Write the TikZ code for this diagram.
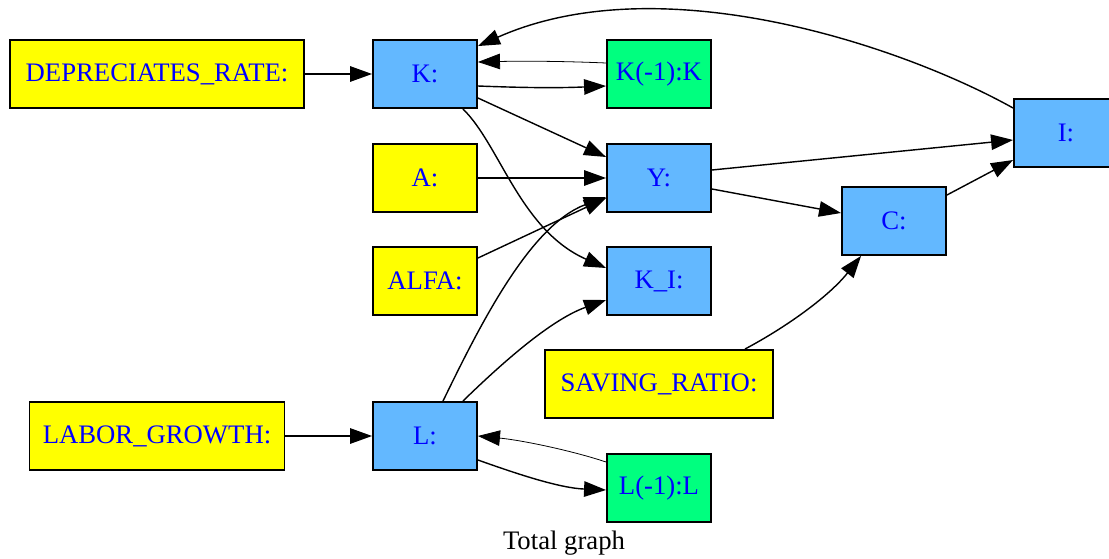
\documentclass[tikz,border=0pt]{standalone}
\usepackage{fontspec}
\setmainfont{Liberation Serif}
\usetikzlibrary{arrows.meta,calc}
\definecolor{exo}{HTML}{FFFF00}
\definecolor{endo}{HTML}{63B8FF}
\definecolor{lag}{HTML}{00FF7F}
\begin{document}
\begin{tikzpicture}[x=0.02cm,y=-0.02cm,
    every node/.style={font=\fontsize{15.2}{18}\selectfont},
    var/.style={draw,line width=1.1pt,text=blue,minimum width=2.08cm,minimum height=1.36cm,inner sep=0pt},
    exov/.style={var,fill=exo},
    endov/.style={var,fill=endo},
    lagv/.style={var,fill=lag},
    edge/.style={line width=0.8pt,-{Triangle[length=0.44cm,width=0.31cm]}},
    thinedge/.style={line width=0.45pt,-{Triangle[length=0.44cm,width=0.31cm]}}]
  \useasboundingbox (0,0) rectangle (1109,558);
  % the variables
  \node[exov,minimum width=5.88cm] (dep) at (157,74) {DEPRECIATES\_RATE:};
  \node[endov] (K) at (425,74) {K:};
  \node[lagv] (Kl) at (659,74) {K(-1):K};
  \node[exov] (A) at (425,178) {A:};
  \node[endov] (Y) at (659,178) {Y:};
  \node[exov] (alfa) at (425,281) {ALFA:};
  \node[endov] (KI) at (659,281) {K\_I:};
  \node[endov] (C) at (894,221) {C:};
  \node[endov] (I) at (1066,133) {I:};
  \node[exov,minimum width=4.56cm] (sav) at (659,384) {SAVING\_RATIO:};
  \node[exov,minimum width=5.1cm] (lab) at (157,436) {LABOR\_GROWTH:};
  \node[endov] (L) at (425,436) {L:};
  \node[lagv] (Ll) at (659,488) {L(-1):L};
  \node (title) at (564,543) {Total graph};

  %% the edges
  \draw[edge] (dep) -- (K);
  \draw[edge] ($(K.east)+(0,12)$) .. controls (530,88) and (560,88) .. ($(Kl.west)+(0,12)$);
  \draw[thinedge] ($(Kl.west)+(0,-11)$) .. controls (560,61) and (520,61) .. ($(K.east)+(0,-12)$);
  \draw[edge] ($(K.east)+(0,24)$) -- ($(Y.west)+(0,-21)$);
  \draw[edge] ($(K.south east)+(-15,0)$) .. controls (500,145) and (520,230) .. ($(KI.west)+(0,-13)$);
  \draw[edge] (A) -- (Y);
  \draw[edge] ($(alfa.east)+(0,-23)$) -- ($(Y.west)+(0,20)$);
  \draw[edge] ($(L.north)+(18,0)$) .. controls (480,325) and (530,225) .. ($(Y.west)+(0,19)$);
  \draw[edge] ($(L.north east)+(-15,0)$) .. controls (500,365) and (550,320) .. ($(KI.west)+(0,19)$);
  \draw[edge] ($(Y.east)+(0,-8)$) -- ($(I.west)+(0,7)$);
  \draw[edge] ($(Y.east)+(0,11)$) -- ($(C.west)+(0,-8)$);
  \draw[edge] ($(C.east)+(0,-26)$) -- ($(I.west)+(0,27)$);
  \draw[edge] ($(sav.north)+(86,0)$) .. controls (790,325) and (830,295) .. ($(C.south west)+(20,0)$);
  \draw[edge] ($(I.west)+(0,-25)$) .. controls (900,45) and (660,-35) .. ($(K.north east)+(0,7)$);
  \draw[edge] (lab) -- (L);
  \draw[edge] ($(L.east)+(0,24)$) .. controls (520,475) and (560,488) .. ($(Ll.west)+(0,2)$);
  \draw[thinedge] ($(Ll.west)+(0,-26)$) .. controls (570,450) and (520,440) .. (L.east);
\end{tikzpicture}
\end{document}
